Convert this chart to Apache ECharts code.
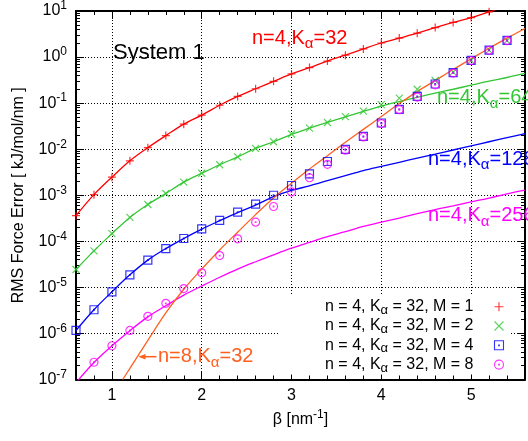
<!DOCTYPE html>
<html><head><meta charset="utf-8">
<script src="https://cdn.jsdelivr.net/npm/echarts@6/dist/echarts.min.js"></script>
<style>html,body{margin:0;padding:0;background:#fff}#c{width:528px;height:441px}</style>
</head><body><div id="c"></div>
<script>
// ---- data ----
const beta = [0.6,0.8,1.0,1.2,1.4,1.6,1.8,2.0,2.2,2.4,2.6,2.8,3.0,3.2,3.4,3.6,3.8,4.0,4.2,4.4,4.6,4.8,5.0,5.2,5.4,5.6];
// measured points
const m1 = [3.6e-4,1.03e-3,2.47e-3,5.6e-3,1.08e-2,1.97e-2,3.5e-2,5.5e-2,9.0e-2,0.14,0.205,0.297,0.43,0.59,0.82,1.10,1.50,2.02,2.58,3.30,4.36,5.66,7.2,9.6,null,null];
const m2 = [2.44e-5,6.2e-5,1.47e-4,3.3e-4,6.3e-4,1.09e-3,1.93e-3,3.0e-3,4.6e-3,6.8e-3,1.04e-2,1.45e-2,2.14e-2,2.87e-2,3.8e-2,5.1e-2,6.7e-2,9.3e-2,0.128,0.20,0.31,0.47,0.85,1.41,2.27,null];
const m4 = [1.16e-6,3.27e-6,8.0e-6,1.87e-5,3.9e-5,6.95e-5,1.15e-4,1.86e-4,2.85e-4,4.3e-4,6.4e-4,1.0e-3,1.63e-3,2.9e-3,5.4e-3,9.9e-3,1.9e-2,3.7e-2,7.3e-2,0.14,0.26,0.46,0.85,1.41,2.30,null];
const m8 = [null,2.37e-7,5.4e-7,1.16e-6,2.35e-6,4.5e-6,9.4e-6,2.07e-5,4.9e-5,1.13e-4,2.6e-4,5.7e-4,1.18e-3,2.4e-3,4.7e-3,9.5e-3,1.85e-2,3.6e-2,7.2e-2,0.135,0.25,0.45,0.84,1.40,2.28,null];
// estimate curves (n=4)
const k32 = [3.6e-4,1.03e-3,2.47e-3,5.6e-3,1.08e-2,1.97e-2,3.5e-2,5.5e-2,9.0e-2,0.14,0.205,0.297,0.43,0.59,0.82,1.10,1.50,2.02,2.58,3.30,4.36,5.66,7.2,9.6,12.6,16.5];
const k64 = [2.44e-5,6.2e-5,1.47e-4,3.3e-4,6.3e-4,1.09e-3,1.93e-3,3.0e-3,4.6e-3,6.8e-3,1.04e-2,1.45e-2,2.1e-2,2.85e-2,3.8e-2,5.0e-2,6.6e-2,8.6e-2,0.108,0.134,0.165,0.20,0.245,0.30,0.36,0.44];
const k128 = [1.16e-6,3.27e-6,8.0e-6,1.87e-5,3.9e-5,6.95e-5,1.15e-4,1.84e-4,2.8e-4,4.2e-4,6.1e-4,9.3e-4,1.27e-3,1.6e-3,2.07e-3,2.67e-3,3.44e-3,4.24e-3,5.2e-3,6.4e-3,7.8e-3,9.6e-3,1.18e-2,1.45e-2,1.78e-2,2.18e-2];
const k256 = [8.5e-8,2.34e-7,5.4e-7,1.15e-6,2.29e-6,3.98e-6,6.8e-6,1.07e-5,1.66e-5,2.5e-5,3.6e-5,5.1e-5,7.1e-5,9.5e-5,1.26e-4,1.62e-4,2.1e-4,2.6e-4,3.2e-4,4.0e-4,4.9e-4,5.9e-4,7.2e-4,8.7e-4,1.07e-3,1.29e-3];
// estimate curve (n=8, K=32)
const betaN8 = [1.12,1.2,1.4,1.6,1.8,2.0,2.2,2.4,2.6,2.8,3.0,3.2,3.4,3.6,3.8,4.0,4.2,4.4,4.6,4.8,5.0,5.2,5.4,5.6];
const n8k32 = [1.0e-7,1.74e-7,7.1e-7,2.8e-6,9.1e-6,2.5e-5,6.5e-5,1.58e-4,3.8e-4,8.7e-4,1.82e-3,3.7e-3,7.2e-3,1.41e-2,2.69e-2,5.1e-2,9.8e-2,0.178,0.309,0.537,0.912,1.55,2.57,4.17];
const legendNames = ['n = 4, Kα = 32, M = 1','n = 4, Kα = 32, M = 2','n = 4, Kα = 32, M = 4','n = 4, Kα = 32, M = 8'];
const curveLabels = ['n=4,Kα=32','n=4,Kα=64','n=4,Kα=128','n=4,Kα=256','n=8,Kα=32'];

// ---- styling ----
const FONT = '"Liberation Sans", Arial, Helvetica, sans-serif';
const RED='#ff0000', GREEN='#33c633', BLUE='#0000ff', MAG='#ff00ff', ORG='#ff6020';
const SYM = {
  plus: 'path://M0,5L10,5M5,0L5,10',
  cross: 'path://M0,0L10,10M10,0L0,10',
  box: 'path://M0,0L10,0L10,10L0,10ZM4.6,4.6L5.4,4.6L5.4,5.4L4.6,5.4Z',
  circ: 'path://M0,5A5,5,0,1,1,10,5A5,5,0,1,1,0,5ZM4.6,4.6L5.4,4.6L5.4,5.4L4.6,5.4Z'
};
function pairs(xs, ys){ const out=[]; for(let i=0;i<xs.length;i++){ if(ys[i]!=null) out.push([xs[i], ys[i]]); } return out; }
function lineSeries(xs, ys, color){
  return {type:'line', data:pairs(xs,ys), showSymbol:false, smooth:0.35, z:2, silent:true,
    lineStyle:{color, width:1.3}, itemStyle:{color}};
}
function pointSeries(name, ys, symbol, size, color){
  return {type:'scatter', name, data:pairs(beta,ys), symbol, symbolSize:size, symbolKeepAspect:true, z:3, silent:true,
    itemStyle:{color:'rgba(0,0,0,0)', borderColor:color, borderWidth:1.2}};
}
const supRich = {
  b:{fontSize:16, lineHeight:22, fontFamily:FONT, color:'#000'},
  s:{fontSize:12, lineHeight:12, padding:[0,0,10,0], fontFamily:FONT, color:'#000'}
};
const dotted = {show:true, lineStyle:{color:'#000', type:[1,2], width:1}};
function xAx(pos, main){
  return {type:'value', min:0.6, max:5.6, splitNumber:5, position:pos,
    axisLine:{show:true, onZero:false, lineStyle:{color:'#000', width:2}},
    axisTick:{show:true, inside:true, length:8, lineStyle:{color:'#000', width:1}},
    minorTick:{show:true, splitNumber:5, length:4, lineStyle:{color:'#000', width:1}},
    axisLabel: main ? {show:true, margin:8, fontSize:16, fontFamily:FONT, color:'#000',
      formatter:v=> Math.abs(v-Math.round(v))<1e-6 ? String(Math.round(v)) : ''} : {show:false},
    splitLine: main ? dotted : {show:false},
    name: main ? 'β [nm{s|-1}]' : '', nameLocation:'middle', nameGap:32,
    nameTextStyle:{fontSize:16, fontFamily:FONT, color:'#000', rich:supRich}
  };
}
function yAx(pos, main){
  return {type:'log', logBase:10, min:1e-7, max:10, position:pos,
    axisLine:{show:true, onZero:false, lineStyle:{color:'#000', width:2}},
    axisTick:{show:true, inside:true, length:8, lineStyle:{color:'#000', width:1}},
    minorTick:{show:true, splitNumber:9, length:4, lineStyle:{color:'#000', width:1}},
    axisLabel: main ? {show:true, margin:9, formatter:v=>'{b|10}{s|'+Math.round(Math.log10(v))+'}', rich:supRich} : {show:false},
    splitLine: main ? dotted : {show:false},
    name: main ? 'RMS Force Error [ kJ/mol/nm ]' : '', nameLocation:'middle', nameGap:49, nameRotate:90,
    nameTextStyle:{fontSize:16, fontFamily:FONT, color:'#000'}
  };
}
function lbl(i, x, y, color){
  return {type:'text', x, y, z:10, style:{text:curveLabels[i].replace('α','{a|α}'), fill:color,
    font:'20px '+FONT, align:'left', verticalAlign:'middle', rich:{a:{fontSize:15, padding:[12,0,0,0], fontFamily:FONT, fill:color}}}};
}

const chart = echarts.init(document.getElementById('c'), null, {renderer:'canvas'});
chart.setOption({
  backgroundColor:'#fff',
  animation:false,
  grid:{left:76, top:4.5, width:456, height:375, containLabel:false},
  xAxis:[xAx('bottom', true), xAx('top', false)],
  yAxis:[yAx('left', true), yAx('right', false)],
  legend:{
    data:legendNames, orient:'vertical', left:280, top:295.7, align:'right',
    itemWidth:41, itemHeight:9, itemGap:0.3, padding:[2,6,0,45],
    backgroundColor:'#fff', selectedMode:false,
    itemStyle:{borderWidth:1.1},
    formatter:n=>n.replace('α','{a|α}'),
    textStyle:{fontSize:16, fontFamily:FONT, color:'#000', lineHeight:18,
      rich:{a:{fontSize:13, padding:[7,0,0,0], fontFamily:FONT}}}
  },
  series:[
    lineSeries(beta, k32, RED),
    lineSeries(beta, k64, GREEN),
    lineSeries(beta, k128, BLUE),
    lineSeries(beta, k256, MAG),
    lineSeries(betaN8, n8k32, ORG),
    pointSeries(legendNames[0], m1, SYM.plus, 8, RED),
    pointSeries(legendNames[1], m2, SYM.cross, 7, GREEN),
    pointSeries(legendNames[2], m4, SYM.box, 8, BLUE),
    pointSeries(legendNames[3], m8, SYM.circ, 8, MAG)
  ],
  graphic:[
    {type:'text', x:113, y:52.5, z:10, style:{text:'System 1', fill:'#000', font:'22px '+FONT, align:'left', verticalAlign:'middle'}},
    lbl(0, 252, 38, RED),
    lbl(1, 437, 97.5, GREEN),
    lbl(2, 428, 159, BLUE),
    lbl(3, 428, 215.8, MAG),
    lbl(4, 158, 356.5, ORG),
    {type:'line', z:10, shape:{x1:144, y1:356.7, x2:156.5, y2:356.7}, style:{stroke:ORG, lineWidth:1.5}},
    {type:'polygon', z:10, shape:{points:[[138.3,356.7],[145.5,353.9],[145.5,359.5]]}, style:{fill:ORG}}
  ]
});
</script></body></html>
